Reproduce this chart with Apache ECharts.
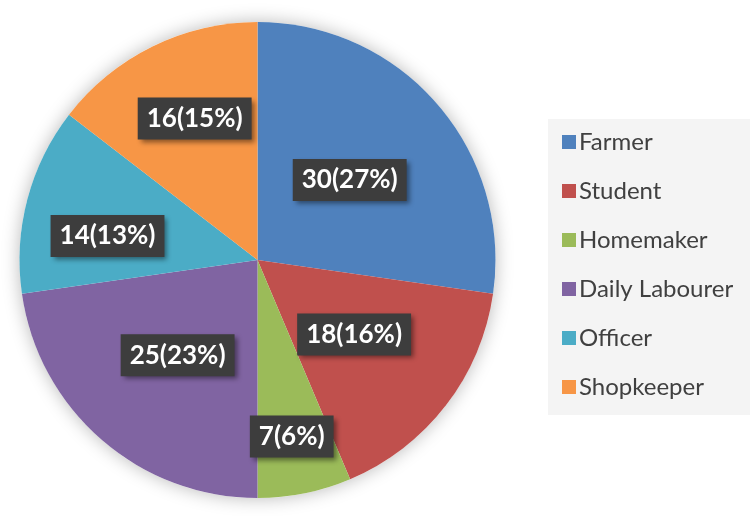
<!DOCTYPE html>
<html>
<head>
<meta charset="utf-8">
<script src="https://cdn.jsdelivr.net/npm/echarts@6/dist/echarts.min.js"></script>
<style>
  html, body { margin: 0; padding: 0; background: #ffffff; }
  #chart { width: 750px; height: 516px; }
</style>
</head>
<body>
<div id="chart"></div>
<script>
// data
var categories = ['Farmer', 'Student', 'Homemaker', 'Daily Labourer', 'Officer', 'Shopkeeper'];
var counts = [30, 18, 7, 25, 14, 16];
var percents = [27, 16, 6, 23, 13, 15];
var sliceColors = ['#4F81BD', '#C0504D', '#9BBB59', '#8064A2', '#4BACC6', '#F79646'];

// some labels were moved by hand in the original
var labelShift = [[0, 0], [0, 0], [10, 57], [0, 3], [-32, 7], [-9, -32]];

var chart = document.getElementById('chart');
var myChart = echarts.init(chart);

var pieData = [];
for (var i = 0; i < categories.length; i++) {
    pieData.push({
        name: categories[i],
        value: counts[i],
        itemStyle: { color: sliceColors[i] }
    });
}

var option = {
    animation: false,
    legend: {
        orient: 'vertical',
        left: 548,
        top: 119,
        padding: [11, 40, 16, 14],
        backgroundColor: '#f4f4f4',
        itemWidth: 14,
        itemHeight: 14,
        itemGap: 25,
        icon: 'rect',
        data: categories,
        textStyle: {
            fontFamily: 'Lato',
            fontSize: 24,
            lineHeight: 24,
            color: '#404040',
            padding: [0, 0, 0, -2]
        }
    },
    series: [
        {
            // soft shadow under the whole pie
            type: 'pie',
            silent: true,
            center: [257.5, 260],
            radius: 238,
            z: 1,
            label: { show: false },
            labelLine: { show: false },
            itemStyle: {
                color: '#ffffff',
                shadowBlur: 18,
                shadowColor: 'rgba(0,0,0,0.28)'
            },
            data: [{ name: 'bg', value: 1 }]
        },
        {
            type: 'pie',
            center: [257.5, 260],
            radius: 238,
            startAngle: 90,
            clockwise: true,
            z: 2,
            data: pieData,
            label: {
                show: true,
                position: 'inside',
                formatter: function (p) {
                    return counts[p.dataIndex] + '(' + percents[p.dataIndex] + '%)';
                },
                fontFamily: 'Lato',
                fontWeight: 'bold',
                fontSize: 26,
                color: '#ffffff',
                backgroundColor: '#3d3d3d',
                padding: [8, 9, 8, 9],
                shadowBlur: 5,
                shadowOffsetX: 3,
                shadowOffsetY: 3,
                shadowColor: 'rgba(0,0,0,0.45)'
            },
            labelLayout: function (params) {
                var s = labelShift[params.dataIndex];
                return { dx: s[0], dy: s[1] };
            },
            labelLine: { show: false },
            emphasis: { scale: false }
        }
    ]
};

myChart.setOption(option);
</script>
</body>
</html>
